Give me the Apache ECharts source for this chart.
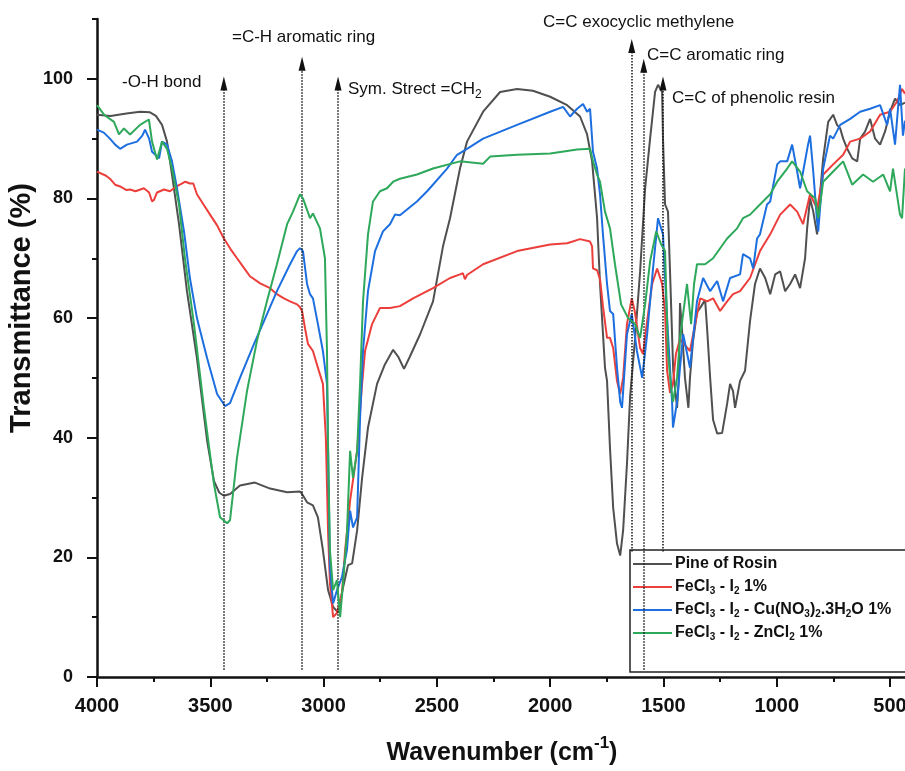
<!DOCTYPE html>
<html>
<head>
<meta charset="UTF-8" />
<script src="https://cdn.jsdelivr.net/npm/echarts@6/dist/echarts.min.js"></script>
<title>FTIR</title>
<style>
	body {
		margin: 0;
		background-color: #ffffff;
	}
	#chart {
		width: 905px;
		height: 771px;
	}
</style>
</head>
<body>
<div id="chart"></div>
<script>
	// spectra: [wavenumber, transmittance]
	var seriesNames = ['Pine of Rosin', 'FeCl3 - I2 1%', 'FeCl3 - I2 - Cu(NO3)2.3H2O 1%', 'FeCl3 - I2 - ZnCl2 1%']

	var pineRosin = [
		[4000, 94.0], [3940, 93.8], [3870, 94.2], [3810, 94.5], [3766, 94.4], [3740, 93.8], [3713, 92.3], [3691, 89.5],
		[3669, 84], [3638, 75.7], [3603, 64.5], [3559, 53.3], [3514, 39.5], [3484, 32.8], [3460, 30.8], [3440, 30.3],
		[3413, 30.6], [3369, 32], [3303, 32.5], [3236, 31.5], [3161, 30.9], [3104, 31.0], [3095, 30.6], [3073, 29.2],
		[3047, 28.7], [3025, 26.7], [3003, 21.2], [2980, 14.5], [2958, 11.7], [2936, 10.8], [2914, 15], [2892, 18.7],
		[2874, 19], [2852, 24.5], [2830, 33.3], [2804, 41.7], [2764, 49], [2729, 52.3], [2693, 54.7], [2670, 53.5],
		[2645, 51.5], [2620, 53.5], [2574, 57.3], [2517, 62.8], [2473, 72], [2442, 76.7], [2398, 85], [2367, 89.5],
		[2296, 94.5], [2221, 97.8], [2146, 98.3], [2076, 98], [2000, 97], [1925, 95.6], [1868, 93.7], [1837, 90.7],
		[1815, 86.2], [1793, 76.7], [1780, 65.7], [1758, 51.7], [1749, 49.5], [1736, 38.3], [1722, 28.3], [1705, 22.3],
		[1691, 20.3], [1678, 24.5], [1661, 35.7], [1647, 47], [1625, 56.7], [1603, 67.8], [1581, 81.7], [1559, 90],
		[1537, 97.8], [1524, 99], [1506, 97.8], [1502, 90], [1493, 79], [1480, 77.8], [1471, 67.8], [1457, 51.2],
		[1440, 45], [1432, 50], [1427, 62.5], [1418, 58], [1405, 50], [1390, 45], [1383, 50], [1370, 56],
		[1352, 61], [1338, 61.7], [1325, 62.5], [1316, 63], [1307, 58], [1294, 50], [1281, 43], [1263, 40.7],
		[1241, 40.8], [1219, 45.7], [1206, 49], [1193, 47.8], [1184, 45], [1162, 49.5], [1140, 51.2], [1118, 59.5],
		[1096, 65.7], [1074, 68.3], [1051, 66.7], [1029, 64], [1007, 67.3], [985, 67.8], [963, 64.5], [941, 65.7],
		[919, 67.3], [897, 65], [875, 70], [866, 75], [853, 80], [839, 77.8], [822, 74], [808, 81.2],
		[795, 86.7], [773, 92.8], [751, 94], [734, 92.3], [720, 91.7], [707, 90], [689, 88.3], [667, 86.7],
		[645, 86.2], [632, 90], [610, 91.2], [588, 93.3], [566, 90], [544, 89], [522, 91.2], [500, 94.5],
		[478, 96.7], [456, 95.6], [434, 96]
	]

	var fecl3I2 = [
		[4000, 84.5], [3960, 83.8], [3943, 83.3], [3920, 82.3], [3898, 82], [3870, 81.4], [3854, 81.5], [3830, 81.2],
		[3793, 81.7], [3770, 81], [3757, 79.5], [3748, 79.8], [3735, 81], [3704, 81.5], [3678, 81.2], [3650, 82],
		[3634, 82.3], [3610, 82.8], [3590, 82.5], [3575, 82.5], [3559, 80.7], [3530, 79], [3501, 77.3], [3470, 75.5],
		[3440, 73.3], [3410, 71.5], [3382, 70], [3350, 68.3], [3325, 67], [3280, 65.8], [3236, 65], [3206, 64],
		[3175, 63.3], [3148, 62.8], [3117, 62.3], [3104, 61.8], [3095, 61.2], [3082, 58.3], [3069, 55.7], [3047, 54.5],
		[3025, 51.7], [3003, 49], [2990, 40], [2980, 24], [2972, 15.7], [2958, 10], [2941, 10.7], [2919, 14],
		[2905, 21.2], [2883, 29.5], [2852, 37.8], [2830, 49], [2817, 54.5], [2786, 59], [2751, 61.7], [2707, 61.7],
		[2663, 62], [2605, 63.3], [2517, 65], [2442, 66.7], [2398, 67.3], [2385, 67.5], [2376, 66.5], [2367, 67.2],
		[2296, 69], [2146, 71.2], [2000, 72.3], [1925, 72.5], [1868, 73.2], [1824, 72.8], [1815, 72], [1811, 68.3],
		[1793, 68], [1780, 66.5], [1767, 62], [1749, 56.7], [1736, 56.7], [1722, 55], [1705, 49.5], [1691, 47.3],
		[1678, 50], [1661, 59], [1640, 63.3], [1627, 61.2], [1603, 55], [1590, 54], [1572, 59.5], [1550, 65.7],
		[1528, 68.3], [1506, 65.7], [1493, 61.2], [1484, 51.2], [1471, 47.5], [1458, 49], [1445, 54], [1427, 56.5],
		[1410, 55.7], [1383, 54.5], [1369, 57.3], [1338, 63.3], [1307, 62.8], [1281, 63.3], [1250, 61.2], [1219, 62.8],
		[1193, 64], [1162, 64.5], [1118, 66.7], [1074, 71.2], [1029, 74], [985, 77.3], [941, 79], [910, 77.8],
		[884, 75.7], [853, 80.7], [822, 78.3], [795, 84], [751, 85.7], [707, 87.3], [676, 89.5], [632, 90],
		[588, 91.2], [544, 94], [500, 94.5], [469, 96.2], [447, 98.3], [434, 97.5]
	]

	var fecl3I2Cu = [
		[4000, 91.5], [3970, 91], [3943, 90], [3920, 89], [3898, 88.3], [3868, 89], [3823, 89.5], [3800, 90.5],
		[3788, 91.5], [3770, 90], [3757, 87.8], [3726, 86.7], [3713, 89.5], [3691, 89], [3669, 86.2], [3647, 81.7],
		[3616, 74.5], [3590, 66.7], [3559, 60], [3514, 53.3], [3470, 47.3], [3435, 45.3], [3413, 45.8], [3369, 50],
		[3307, 55.7], [3263, 59.5], [3206, 64.5], [3148, 69], [3117, 71.2], [3104, 71.7], [3091, 71.2], [3073, 65.7],
		[3060, 64], [3047, 63.3], [3025, 59], [3003, 54.5], [2985, 49], [2980, 37.8], [2972, 18.3], [2958, 12.3],
		[2941, 14.5], [2919, 16.7], [2897, 21.2], [2883, 27.8], [2870, 25], [2852, 26.7], [2839, 43.3], [2826, 54.5],
		[2804, 64.5], [2773, 71.2], [2738, 74.5], [2707, 75.7], [2685, 77.3], [2663, 77.2], [2588, 79.5], [2543, 81.2],
		[2455, 85], [2411, 87.3], [2367, 88.3], [2296, 90], [2146, 92.3], [2000, 94.5], [1943, 95.3], [1912, 93.7],
		[1881, 95], [1855, 95.8], [1837, 94.5], [1824, 95], [1811, 87.8], [1793, 85], [1780, 80.7], [1767, 74],
		[1749, 65.7], [1736, 61.2], [1722, 60.7], [1705, 51.7], [1691, 46], [1683, 45], [1661, 57.3], [1640, 60.7],
		[1617, 54.5], [1594, 50], [1572, 57.3], [1546, 68.3], [1524, 76.7], [1502, 74], [1493, 66.7], [1480, 57.3],
		[1462, 46], [1458, 41.7], [1440, 46], [1427, 51.7], [1413, 57.3], [1383, 51.7], [1352, 62.8], [1325, 66.7],
		[1294, 64.5], [1263, 66.2], [1237, 62.8], [1206, 66.7], [1162, 67.3], [1149, 70.7], [1118, 70], [1104, 68.3],
		[1087, 73.3], [1074, 74], [1043, 79], [1029, 79.5], [998, 85.7], [985, 86.2], [954, 86.2], [932, 89],
		[910, 84.5], [897, 81.7], [862, 89], [853, 90.5], [839, 84.5], [822, 76.2], [817, 74.5], [795, 85],
		[765, 90.5], [751, 90], [720, 92.3], [676, 93.3], [632, 94.5], [588, 95], [544, 95.6], [513, 92.3],
		[500, 95], [478, 89], [465, 95], [456, 99], [443, 90.5], [434, 93]
	]

	var fecl3I2Zn = [
		[4000, 95.6], [3969, 94], [3925, 92.8], [3903, 90.7], [3881, 91.7], [3854, 90.7], [3810, 92.3], [3771, 93.2],
		[3757, 89.5], [3735, 86.5], [3713, 89.5], [3691, 88.3], [3669, 85], [3638, 79], [3612, 70], [3572, 59],
		[3528, 45], [3484, 32.3], [3457, 26.7], [3426, 25.7], [3413, 26.2], [3382, 36.7], [3338, 47.8], [3294, 56.2],
		[3250, 62.8], [3206, 69], [3161, 75.7], [3135, 77.8], [3104, 80.7], [3091, 80], [3060, 76.7], [3047, 77.5],
		[3016, 75], [2994, 70], [2985, 54.5], [2980, 37.8], [2972, 21.2], [2958, 14.5], [2941, 16.2], [2927, 10],
		[2914, 15.7], [2897, 24], [2883, 37.8], [2870, 33.3], [2852, 37.8], [2839, 49], [2826, 62.8], [2804, 74],
		[2782, 79.5], [2751, 81.2], [2720, 81.7], [2693, 82.8], [2663, 83.3], [2588, 84], [2517, 85], [2398, 86.2],
		[2296, 85.8], [2265, 87], [2146, 87.3], [2000, 87.5], [1881, 88.2], [1824, 88.3], [1811, 86.2], [1793, 84],
		[1780, 82.8], [1758, 77.8], [1736, 75], [1714, 69], [1687, 62.3], [1656, 60], [1625, 59], [1603, 56.7],
		[1581, 62.3], [1559, 69.5], [1532, 74.5], [1510, 72.3], [1493, 71.2], [1480, 54], [1466, 48.3], [1458, 46],
		[1440, 50], [1427, 56.7], [1396, 65.7], [1378, 59], [1365, 65.7], [1352, 69], [1316, 69], [1281, 70],
		[1219, 73.3], [1175, 75], [1149, 76.7], [1118, 77.3], [1074, 79], [1029, 80.7], [998, 82.8], [954, 85],
		[932, 86.2], [897, 84.5], [866, 81.2], [830, 80], [817, 76.7], [795, 82.8], [751, 84.5], [707, 86.2],
		[667, 82.3], [619, 84], [575, 82.8], [530, 84], [500, 81.2], [487, 85], [456, 77.3], [447, 76.7], [434, 85]
	]

	// tick positions
	var xMajorTicks = [500, 1000, 1500, 2000, 2500, 3000, 3500, 4000]
	var xMinorTicks = [750, 1250, 1750, 2250, 2750, 3250, 3750]
	var yMajorTicks = [0, 20, 40, 60, 80, 100]
	var yMinorTicks = [10, 30, 50, 70, 90, 110]

	// assignment markers: wavenumber of each dotted arrow and its label
	var peakWavenumbers = [3440, 3095, 2936, 1640, 1587, 1502]
	var peakLabels = ['-O-H bond', '=C-H aromatic ring', 'Sym. Strect =CH{s|2}', 'C=C exocyclic methylene', 'C=C aromatic ring', 'C=C of phenolic resin']

	var colors = ['#505050', '#ec3f3b', '#1d6fe0', '#2ea85a']
	var font = 'Liberation Sans, Arial, sans-serif'

	// where each arrow starts/ends (y) and where its text sits (px)
	var markBottom = [1.2, 1.2, 1.2, 21, 1.2, 21]
	var markTop = [99.2, 102.5, 99.2, 105.5, 102.2, 99.2]
	var labelPos = [[122, 82], [232, 37], [348, 89], [543, 22], [647, 55], [672, 98]]

	var legendRich = {
		s: { fontSize: 10, fontWeight: 'bold', fontFamily: font, verticalAlign: 'bottom', lineHeight: 14, color: '#111' }
	}
	var legendText = {
		'Pine of Rosin': 'Pine of Rosin',
		'FeCl3 - I2 1%': 'FeCl{s|3} - I{s|2} 1%',
		'FeCl3 - I2 - Cu(NO3)2.3H2O 1%': 'FeCl{s|3} - I{s|2} - Cu(NO{s|3}){s|2}.3H{s|2}O 1%',
		'FeCl3 - I2 - ZnCl2 1%': 'FeCl{s|3} - I{s|2} - ZnCl{s|2} 1%'
	}

	var chart = echarts.init(document.getElementById('chart'))

	var spectra = [pineRosin, fecl3I2, fecl3I2Cu, fecl3I2Zn]
	var series = spectra.map(function (d, i) {
		return {
			name: seriesNames[i],
			type: 'line',
			data: d,
			symbol: 'none',
			showSymbol: false,
			color: colors[i],
			lineStyle: { width: 2, color: colors[i] },
			z: 2 + i
		}
	})

	// dotted arrows hung on the first series
	series[0].markLine = {
		silent: true,
		animation: false,
		symbol: ['none', 'triangle'],
		symbolSize: [7, 14],
		label: { show: false },
		lineStyle: { type: 'dotted', color: '#111', width: 1.5 },
		data: peakWavenumbers.map(function (w, i) {
			return [{ coord: [w, markBottom[i]] }, { coord: [w, markTop[i]] }]
		})
	}

	var graphics = peakLabels.map(function (t, i) {
		return {
			type: 'text',
			x: labelPos[i][0],
			y: labelPos[i][1],
			z: 100,
			style: {
				text: t,
				fill: '#111',
				fontSize: 17,
				fontFamily: font,
				verticalAlign: 'middle',
				rich: { s: { fontSize: 12, fontFamily: font, verticalAlign: 'bottom', lineHeight: 24, fill: '#111' } }
			}
		}
	})
	graphics.push({
		type: 'text',
		x: 22,
		y: 308,
		rotation: Math.PI / 2,
		style: {
			text: 'Transmittance (%)',
			fill: '#111',
			fontSize: 29,
			fontWeight: 'bold',
			fontFamily: font,
			align: 'center',
			verticalAlign: 'middle'
		}
	})
	graphics.push({
		type: 'text',
		x: 502,
		y: 753,
		style: {
			text: 'Wavenumber (cm{sup|-1})',
			fill: '#111',
			fontSize: 25,
			fontWeight: 'bold',
			fontFamily: font,
			align: 'center',
			verticalAlign: 'middle',
			lineHeight: 36,
			rich: { sup: { fontSize: 17, fontWeight: 'bold', fontFamily: font, verticalAlign: 'top', lineHeight: 16, fill: '#111' } }
		}
	})

	var option = {
		backgroundColor: '#ffffff',
		animation: false,
		grid: { left: 97, right: 0, top: 19, bottom: 94, containLabel: false, outerBoundsMode: 'none' },
		xAxis: [
			{
				type: 'value',
				inverse: true,
				min: 434,
				max: 4000,
				axisLine: { onZero: false, lineStyle: { color: '#111', width: 2.5 } },
				axisTick: { show: true, length: 10, customValues: xMajorTicks, lineStyle: { width: 2, color: '#111' } },
				splitLine: { show: false },
				axisLabel: {
					margin: 19,
					customValues: xMajorTicks,
					color: '#111',
					fontSize: 20,
					fontWeight: 'bold',
					fontFamily: font,
					formatter: function (v) {
						return String(v)
					}
				}
			},
			{
				type: 'value',
				inverse: true,
				min: 434,
				max: 4000,
				position: 'bottom',
				axisLine: { show: false, onZero: false },
				axisTick: { show: true, length: 5, customValues: xMinorTicks, lineStyle: { width: 2, color: '#111' } },
				axisLabel: { show: false },
				splitLine: { show: false }
			}
		],
		yAxis: [
			{
				type: 'value',
				min: 0,
				max: 110,
				axisLine: { show: true, onZero: false, lineStyle: { color: '#111', width: 2.5 } },
				axisTick: { show: true, length: 10, customValues: yMajorTicks, lineStyle: { width: 2, color: '#111' } },
				splitLine: { show: false },
				axisLabel: {
					margin: 24,
					customValues: yMajorTicks,
					color: '#111',
					fontSize: 18,
					fontWeight: 'bold',
					fontFamily: font,
					formatter: function (v) {
						return String(v)
					}
				}
			},
			{
				type: 'value',
				min: 0,
				max: 110,
				position: 'left',
				axisLine: { show: false, onZero: false },
				axisTick: { show: true, length: 5, customValues: yMinorTicks, lineStyle: { width: 2, color: '#111' } },
				axisLabel: { show: false },
				splitLine: { show: false }
			}
		],
		legend: {
			orient: 'vertical',
			left: 630,
			top: 550,
			padding: [5, 40, 30, 3],
			itemGap: 5,
			itemWidth: 39,
			itemHeight: 12,
			borderColor: '#222',
			borderWidth: 1.5,
			backgroundColor: 'transparent',
			icon: 'path://M0,5 L40,5 L40,7 L0,7 Z',
			data: seriesNames,
			formatter: function (name) {
				return legendText[name]
			},
			textStyle: {
				color: '#111',
				fontSize: 16,
				fontWeight: 'bold',
				fontFamily: font,
				lineHeight: 18,
				padding: [0, 0, 0, -2],
				rich: legendRich
			}
		},
		graphic: graphics,
		series: series
	}

	chart.setOption(option)
</script>
</body>
</html>
